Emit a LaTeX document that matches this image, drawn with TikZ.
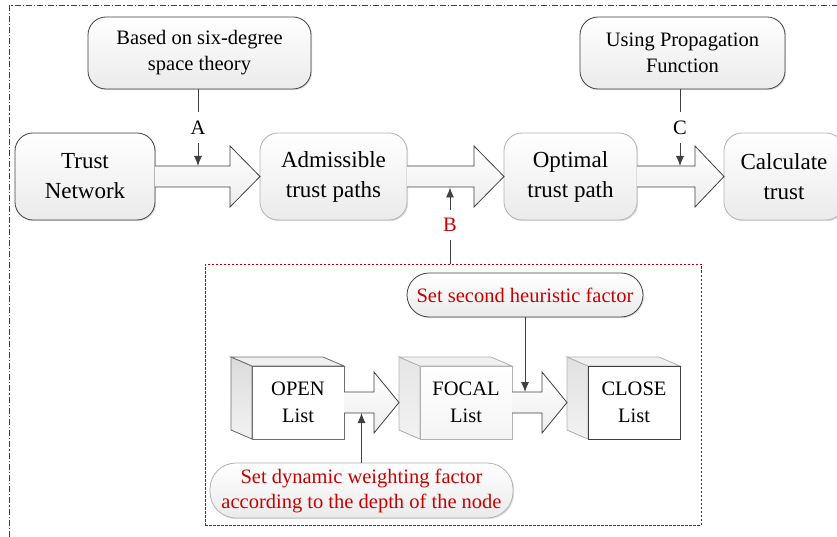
\documentclass[tikz,border=0pt]{standalone}
\usepackage{fontspec}
\setmainfont{Liberation Serif}
\usetikzlibrary{calc,arrows.meta,shadows}
\definecolor{redt}{RGB}{200,0,0}
\definecolor{dk}{RGB}{64,64,64}
\definecolor{lt}{RGB}{178,178,178}
\definecolor{md}{RGB}{110,110,110}
\tikzset{
  boxbase/.style={rounded corners=18pt, top color=white, bottom color=black!8,
    inner sep=0pt, outer sep=0pt, align=center, line width=0.8pt,
    drop shadow={shadow xshift=1.2pt, shadow yshift=-1.2pt, opacity=0.12, fill=black}},
  mainbox/.style={boxbase, minimum height=87pt, font=\fontsize{23}{30}\selectfont},
  topbox/.style={boxbase, draw=dk, minimum height=72pt, font=\fontsize{20.5}{26}\selectfont},
  pillbox/.style={boxbase, align=center, text=redt, font=\fontsize{20.5}{25}\selectfont},
  bigarr/.style={draw=dk, line width=0.8pt, top color=white, bottom color=black!7, line join=miter},
  conn/.style={draw=dk, line width=0.9pt, -{Latex[length=10pt,width=8pt]}},
  plainline/.style={draw=dk, line width=0.9pt},
  lbl/.style={inner sep=0pt, minimum height=31pt, font=\fontsize{20.5}{25}\selectfont},
  cubefront/.style={minimum width=92pt, minimum height=73pt, inner sep=0pt, outer sep=0pt,
    align=center, line width=0.8pt, font=\fontsize{20.5}{27}\selectfont}
}
\newcommand\mycubefaces[3]{%
  \filldraw[draw=#2, top color=#3, bottom color=black!5, line width=0.8pt, line join=miter] (#1.north west) -- ++(-21,-9) -- ($(#1.south west)+(-21,-9)$) -- (#1.south west) -- cycle;
  \filldraw[draw=#2, fill=black!6, line width=0.8pt, line join=miter] (#1.north west) -- ++(-21,-9) -- ($(#1.north east)+(-21,-9)$) -- (#1.north east) -- cycle;
}
\begin{document}
\begin{tikzpicture}[x=1pt,y=-1pt]
\useasboundingbox (0,0) rectangle (837,537);
% outer frame
\draw[dk, line width=0.6pt, dash pattern=on 6pt off 2pt on 1.2pt off 2pt] (9,537) -- (9,5) -- (837,5);

% top boxes
\node[topbox, minimum width=223pt] (based) at (199.5,53) {Based on six-degree\\space theory};
\node[topbox, minimum width=205pt] (using) at (682.5,53) {Using Propagation\\Function};

% main boxes
\node[mainbox, draw=dk, minimum width=140pt] (tn) at (85,176.5) {Trust\\Network};
\node[mainbox, draw=lt, minimum width=147pt] (adm) at (333.5,176.5) {Admissible\\trust paths};
\node[mainbox, draw=lt, minimum width=133pt] (opt) at (570.5,176.5) {Optimal\\trust path};
\node[mainbox, draw=lt, minimum width=120pt] (calc) at (784,176.5) {Calculate\\trust};

% big arrows
\draw[bigarr] ($(tn.east)+(0,-10.5)$) -- ($(adm.west)+(-30,-10.5)$) -- ($(adm.west)+(-30,-30.5)$) -- (adm.west) -- ($(adm.west)+(-30,30.5)$) -- ($(adm.west)+(-30,10.5)$) -- ($(tn.east)+(0,10.5)$);
\draw[bigarr] ($(adm.east)+(0,-10.5)$) -- ($(opt.west)+(-30,-10.5)$) -- ($(opt.west)+(-30,-30.5)$) -- (opt.west) -- ($(opt.west)+(-30,30.5)$) -- ($(opt.west)+(-30,10.5)$) -- ($(adm.east)+(0,10.5)$);
\draw[bigarr] ($(opt.east)+(0,-10.5)$) -- ($(calc.west)+(-29,-10.5)$) -- ($(calc.west)+(-29,-30.5)$) -- (calc.west) -- ($(calc.west)+(-29,30.5)$) -- ($(calc.west)+(-29,10.5)$) -- ($(opt.east)+(0,10.5)$);

% A, B, C
\node[lbl] (la) at (198,127.5) {A};
\draw[plainline] (based.south -| la) -- (la.north);
\coordinate (aend) at (198,166);
\draw[conn] (la.south) -- (aend);

\node[lbl] (lc) at (680,127.5) {C};
\draw[plainline] (using.south -| lc) -- (lc.north);
\coordinate (cend) at (680,166);
\draw[conn] (lc.south) -- (cend);

% red dashed box
\node[draw=redt, line width=0.7pt, dash pattern=on 2.5pt off 1.5pt, minimum width=496pt, minimum height=261pt, inner sep=0pt] (rb) at (453,394.5) {};
\node[lbl, text=redt, minimum height=30pt] (lb) at (450,225) {B};
\coordinate (bend) at (450,187.5);
\draw[conn] (lb.north) -- (bend);
\draw[plainline] (lb.south) -- (lb.south |- rb.north);

% cubes
\node[cubefront] (open) at (298,402.5) {};
\mycubefaces{open}{md}{black!14}
\node[cubefront, draw=md, fill=white] at (open) {OPEN\\List};

\node[cubefront] (focal) at (466,402.5) {};
\mycubefaces{focal}{lt}{black!10}
\node[cubefront, draw=lt, top color=white, bottom color=black!4] at (focal) {FOCAL\\List};

\node[cubefront] (close) at (634,402.5) {};
\mycubefaces{close}{lt}{black!12}
\node[cubefront, draw=dk, fill=white] at (close) {CLOSE\\List};

% small arrows
\draw[bigarr] ($(open.east)+(0,-10.5)$) -- ($(focal.west)+(-46,-10.5)$) -- ($(focal.west)+(-46,-30.5)$) -- ($(focal.west)+(-21,0)$) -- ($(focal.west)+(-46,30.5)$) -- ($(focal.west)+(-46,10.5)$) -- ($(open.east)+(0,10.5)$);
\draw[bigarr] ($(focal.east)+(0,-10.5)$) -- ($(close.west)+(-46,-10.5)$) -- ($(close.west)+(-46,-30.5)$) -- ($(close.west)+(-21,0)$) -- ($(close.west)+(-46,30.5)$) -- ($(close.west)+(-46,10.5)$) -- ($(focal.east)+(0,10.5)$);

% heuristic boxes
\node[pillbox, draw=dk, rounded corners=22pt, minimum width=236pt, minimum height=44pt] (h2) at (525,295) {Set second heuristic factor};
\node[pillbox, draw=lt, rounded corners=26pt, minimum width=303pt, minimum height=55pt] (dyn) at (361.5,490.5) {Set dynamic weighting factor\\according to the depth of the node};

\coordinate (s2top) at (525,392);
\draw[conn] (h2.south) -- (s2top);
\coordinate (s1bot) at (361.5,413);
\draw[conn] (dyn.north) -- (s1bot);
\end{tikzpicture}
\end{document}
